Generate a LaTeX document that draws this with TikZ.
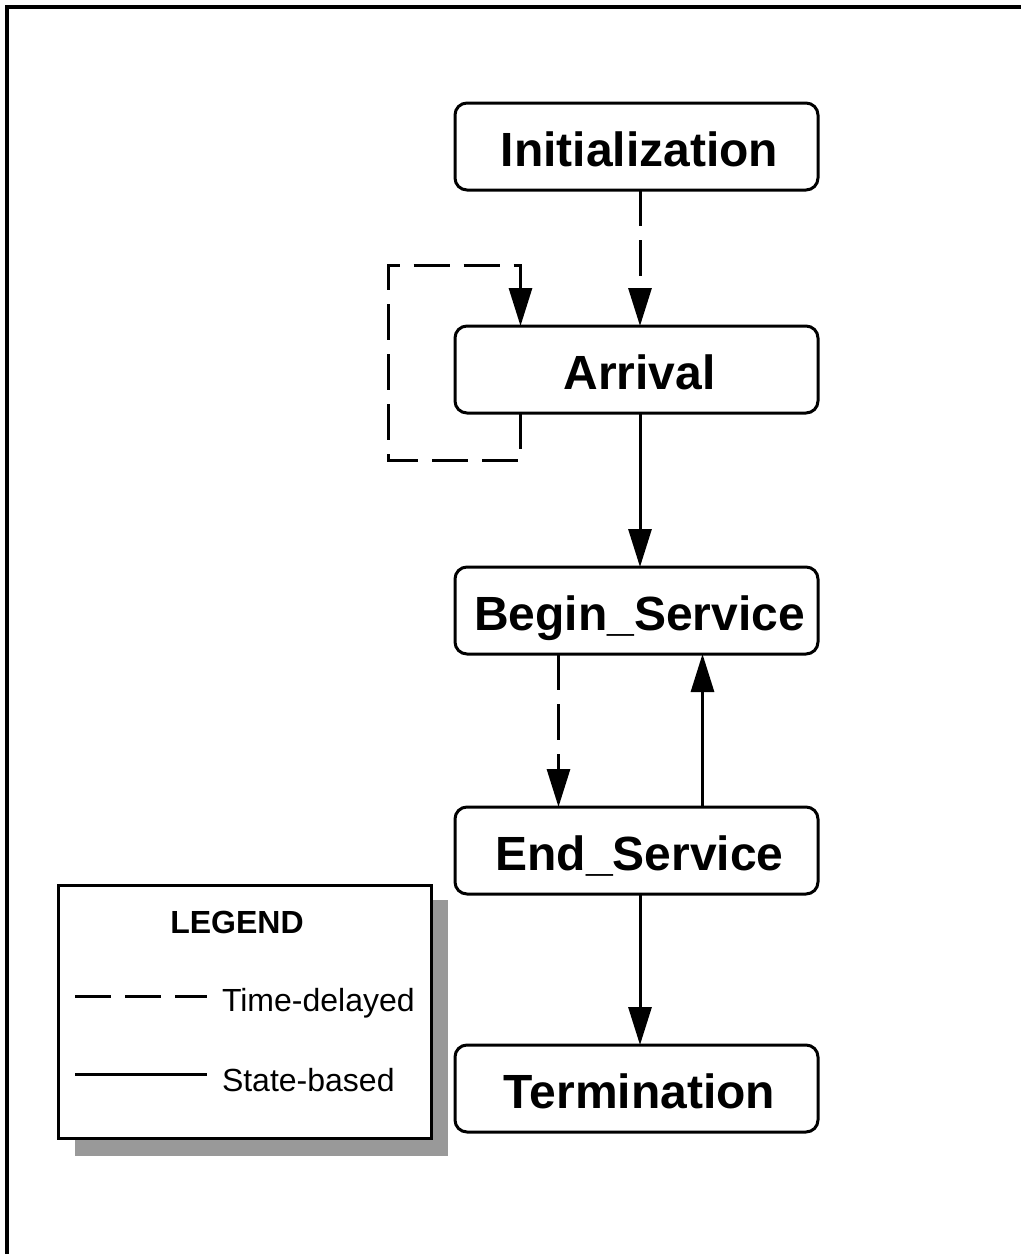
\documentclass[tikz,border=0pt]{standalone}
\usepackage{fontspec}
\setmainfont{Liberation Sans}
\usetikzlibrary{arrows.meta}

\begin{document}
\begin{tikzpicture}[x=0.5pt,y=-0.5pt,inner sep=0pt,outer sep=0pt,line width=1.5pt,
event/.style={draw,rectangle,rounded corners=6pt,minimum width=181.5pt,minimum height=43.5pt,
  font=\fontsize{24}{28}\selectfont\bfseries,text height=20pt,text depth=0pt},
delayed/.style={dash pattern=on 18pt off 7pt},
legendtext/.style={font=\fontsize{16}{19}\selectfont},
>={Triangle[length=19pt,width=11.5pt]}]

\useasboundingbox (0,0) rectangle (1021,1254);
\draw[line width=2pt] (7,1254) -- (7,7) -- (1021,7);

\draw (636.5,146.5) node[event] (init) {\hspace{3pt}Initialization};
\draw (636.5,369.5) node[event] (arrival) {\hspace{3pt}Arrival};
\draw (636.5,610.5) node[event] (begin) {\hspace{3pt}Begin\_Service};
\draw (636.5,850.5) node[event] (end) {\hspace{3pt}End\_Service};
\draw (636.5,1088.5) node[event] (term) {\hspace{3pt}Termination};

\coordinate (loopbl) at (388,460);
\coordinate (looptl) at (388,265);

\draw[delayed,->] ([xshift=1.75pt]init.south) -- ([xshift=1.75pt]arrival.north);
\draw[delayed,->] ([xshift=-58pt]arrival.south) |- (loopbl) -- (looptl) -| ([xshift=-58pt]arrival.north);
\draw[->] ([xshift=1.75pt]arrival.south) -- ([xshift=1.75pt]begin.north);
\draw[delayed,->] ([xshift=-39pt]begin.south) -- ([xshift=-39pt]end.north);
\draw[->] ([xshift=33pt]end.north) -- ([xshift=33pt]begin.south);
\draw[->] ([xshift=1.75pt]end.south) -- ([xshift=1.75pt]term.north);

% legend
\fill[black!40] (75,900) rectangle (448,1156);
\draw (244.5,1011.5) node[draw,fill=white,minimum width=186.5pt,minimum height=126.5pt] (legend) {};
\draw (237,933) node[legendtext,font=\fontsize{16}{19}\selectfont\bfseries,anchor=base] (legendtitle) {LEGEND};
\draw[delayed] (75,996) -- (207,996);
\draw (222,1011) node[legendtext,anchor=base west] (delayedlbl) {Time-delayed};
\draw (75,1074) -- (207,1074);
\draw (222,1091) node[legendtext,anchor=base west] (statelbl) {State-based};
\end{tikzpicture}
\end{document}
